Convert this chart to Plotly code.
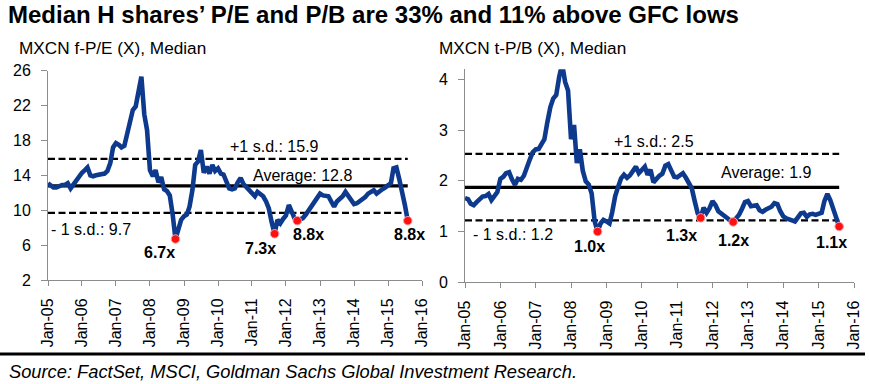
import pandas as pd
import plotly.graph_objects as go

# ---------------- data ----------------
dates = pd.date_range("2005-01-01", periods=128, freq="MS")

pe = [13.1, 12.8, 12.6, 12.6, 12.8, 12.9, 12.9, 13.1, 12.5, 13.0, 13.5, 13.9,
      14.3, 14.6, 14.9, 14.0, 13.9, 14.0, 14.1, 14.1, 14.2, 14.5, 15.4, 17.2,
      17.7, 17.5, 17.2, 17.4, 18.7, 20.0, 21.5, 21.9, 24.0, 25.3, 21.0, 19.2,
      14.6, 13.9, 14.6, 13.2, 13.8, 12.4, 12.2, 11.7, 9.5, 6.7, 7.8, 8.9,
      9.3, 9.5, 10.4, 12.3, 15.2, 15.6, 16.9, 14.3, 15.0, 14.2, 15.2, 14.5,
      14.8, 14.2, 14.1, 13.2, 12.5, 12.4, 12.5, 13.2, 13.7, 13.0, 12.6, 12.2,
      11.9, 11.6, 12.1, 11.9, 11.6, 11.0, 10.2, 8.6, 7.3, 8.9, 8.5, 9.0,
      9.4, 10.6, 9.7, 9.1, 8.8, 8.9, 9.1, 9.5, 10.0, 10.5, 10.9, 11.4,
      11.9, 11.7, 11.6, 11.6, 11.0, 10.4, 11.0, 11.3, 11.6, 12.1, 11.6, 11.1,
      10.7, 10.8, 11.0, 11.2, 11.5, 11.9, 12.1, 12.3, 11.9, 12.2, 12.4, 12.6,
      12.8, 13.1, 14.8, 14.9, 13.6, 12.3, 10.6, 8.8]

pb = [1.66, 1.64, 1.55, 1.52, 1.58, 1.64, 1.69, 1.70, 1.74, 1.62, 1.70, 1.78,
      2.04, 2.08, 2.15, 2.17, 2.03, 1.92, 2.04, 2.02, 2.10, 2.28, 2.42, 2.56,
      2.62, 2.63, 2.71, 2.82, 3.15, 3.45, 3.62, 3.69, 4.05, 4.30, 3.95, 3.78,
      2.82, 3.10, 2.35, 2.62, 2.20, 1.99, 1.93, 1.75, 1.20, 1.00, 1.16, 1.23,
      1.20, 1.16, 1.38, 1.70, 1.88, 2.05, 2.12, 2.06, 2.11, 2.18, 2.28, 2.15,
      2.22, 2.28, 2.12, 2.22, 1.97, 2.04, 2.10, 2.14, 2.30, 2.33, 2.22, 2.08,
      2.07, 2.11, 2.15, 2.06, 1.95, 1.85, 1.60, 1.36, 1.27, 1.47, 1.37, 1.46,
      1.60, 1.52, 1.40, 1.35, 1.30, 1.26, 1.22, 1.19, 1.26, 1.33, 1.45, 1.58,
      1.60, 1.50, 1.51, 1.52, 1.42, 1.39, 1.43, 1.46, 1.49, 1.56, 1.54, 1.40,
      1.30, 1.26, 1.23, 1.22, 1.20, 1.28, 1.36, 1.37, 1.29, 1.34, 1.35, 1.33,
      1.35, 1.37, 1.60, 1.74, 1.62, 1.43, 1.25, 1.10]

pe_avg, pe_hi, pe_lo = 12.8, 15.9, 9.7
pb_avg, pb_hi, pb_lo = 1.87, 2.53, 1.22

pe_low_idx = [45, 80, 88, 127]
pe_low_labels = ["6.7x", "7.3x", "8.8x", "8.8x"]
pb_low_idx = [45, 80, 91, 127]
pb_low_labels = ["1.0x", "1.3x", "1.2x", "1.1x"]

title = "Median H shares\u2019 P/E and P/B are 33% and 11% above GFC lows"
sub_left = "MXCN f-P/E (X), Median"
sub_right = "MXCN t-P/B (X), Median"
source = "Source: FactSet, MSCI, Goldman Sachs Global Investment Research."

# ---------------- style ----------------
W, H = 869, 384
FONT = "Liberation Sans, Arial, Helvetica, sans-serif"
BLUE = "#0E3A8E"
GRAY = "#8C8C8C"

def px(x):
    return x / W

def py(y):
    return 1 - y / H

fig = go.Figure()

def add_panel(vals, avg, hi, lo, low_idx, xa, ya):
    span = [dates[0], dates[-1]]
    fig.add_trace(go.Scatter(x=span, y=[hi, hi], mode="lines", xaxis=xa, yaxis=ya,
                             line=dict(color="black", width=2.2, dash="7px,3.5px"),
                             hoverinfo="skip"))
    fig.add_trace(go.Scatter(x=span, y=[lo, lo], mode="lines", xaxis=xa, yaxis=ya,
                             line=dict(color="black", width=2.2, dash="7px,3.5px"),
                             hoverinfo="skip"))
    fig.add_trace(go.Scatter(x=span, y=[avg, avg], mode="lines", xaxis=xa, yaxis=ya,
                             line=dict(color="black", width=3.2)))
    fig.add_trace(go.Scatter(x=dates, y=vals, mode="lines", xaxis=xa, yaxis=ya,
                             line=dict(color=BLUE, width=4.6)))
    fig.add_trace(go.Scatter(x=[dates[i] for i in low_idx], y=[vals[i] for i in low_idx],
                             mode="markers", xaxis=xa, yaxis=ya, cliponaxis=False,
                             marker=dict(color="#FF1010", size=8.5,
                                         line=dict(color="#F5A0A8", width=1))))

add_panel(pe, pe_avg, pe_hi, pe_lo, pe_low_idx, "x", "y")
add_panel(pb, pb_avg, pb_hi, pb_lo, pb_low_idx, "x2", "y2")

xcommon = dict(type="date", range=["2005-01-01", "2016-01-01"], tickmode="linear",
               tick0="2005-01-01", dtick="M12", tickformat="%b-%y", tickangle=-90,
               showline=True, linecolor=GRAY, linewidth=1, ticks="outside",
               ticklen=5, tickcolor=GRAY, showgrid=False, zeroline=False,
               tickfont=dict(family=FONT, size=16, color="black"),
               ticklabelstandoff=6, fixedrange=True, automargin=False)
ycommon = dict(showline=True, linecolor=GRAY, linewidth=1, ticks="outside",
               ticklen=6, tickcolor=GRAY, showgrid=False, zeroline=False,
               tickfont=dict(family=FONT, size=16, color="black"),
               ticklabelstandoff=7, fixedrange=True, automargin=False)

fig.update_layout(
    width=W, height=H, autosize=False,
    margin=dict(l=0, r=0, t=0, b=0, pad=0, autoexpand=False),
    paper_bgcolor="white", plot_bgcolor="white",
    showlegend=False, hovermode=False,
    xaxis=dict(domain=[px(48), px(422)], anchor="y", **xcommon),
    yaxis=dict(domain=[py(280), py(70.7)], anchor="x", range=[2, 26],
               tickmode="linear", tick0=2, dtick=4, **ycommon),
    xaxis2=dict(domain=[px(465), px(854)], anchor="y2", **xcommon),
    yaxis2=dict(domain=[py(282.3), py(69.2)], anchor="x2", range=[0, 4.2],
                tickmode="linear", tick0=0, dtick=1, **ycommon),
)

ann = []

def text(x, y, s, size=16, bold=False, italic=False, xanchor="center"):
    ann.append(dict(x=px(x), y=py(y), xref="paper", yref="paper", text=s,
                    showarrow=False, xanchor=xanchor, yanchor="middle",
                    font=dict(family=FONT, size=size, color="black",
                              weight="bold" if bold else "normal",
                              style="italic" if italic else "normal")))

text(6, 14.5, title, size=24, bold=True, xanchor="left")
text(17, 48, sub_left, size=17.2, xanchor="left")
text(437, 48, sub_right, size=17.2, xanchor="left")
text(7, 371, source, size=18.3, italic=True, xanchor="left")

# reference line labels
text(274, 146.5, "+1 s.d.: 15.9")
text(302, 176, "Average: 12.8")
text(49, 229, "- 1 s.d.: 9.7", xanchor="left")
text(654, 141, "+1 s.d.: 2.5")
text(766, 172, "Average: 1.9")
text(471, 234.5, "- 1 s.d.: 1.2", xanchor="left")

# low labels anchored to the low points
pe_shift = [(-16, -13), (-14, -15), (11, -13.5), (2, -13.5)]
for i, lab, (dx, dy) in zip(pe_low_idx, pe_low_labels, pe_shift):
    ann.append(dict(x=dates[i], y=pe[i], xref="x", yref="y", text=lab, showarrow=False,
                    xshift=dx, yshift=dy, font=dict(family=FONT, size=16, color="black",
                                                    weight="bold")))
pb_shift = [(-8, -14.5), (-19, -17.5), (0, -19), (-8, -16)]
for i, lab, (dx, dy) in zip(pb_low_idx, pb_low_labels, pb_shift):
    ann.append(dict(x=dates[i], y=pb[i], xref="x2", yref="y2", text=lab, showarrow=False,
                    xshift=dx, yshift=dy, font=dict(family=FONT, size=16, color="black",
                                                    weight="bold")))

fig.update_layout(annotations=ann)

fig.add_shape(type="line", xref="paper", yref="paper", x0=0, x1=px(865),
              y0=py(354), y1=py(354), line=dict(color="black", width=3))

fig.write_html("out.html", config={"displayModeBar": False, "staticPlot": True},
               post_script="document.body.style.margin='0';document.body.style.overflow='hidden';")
